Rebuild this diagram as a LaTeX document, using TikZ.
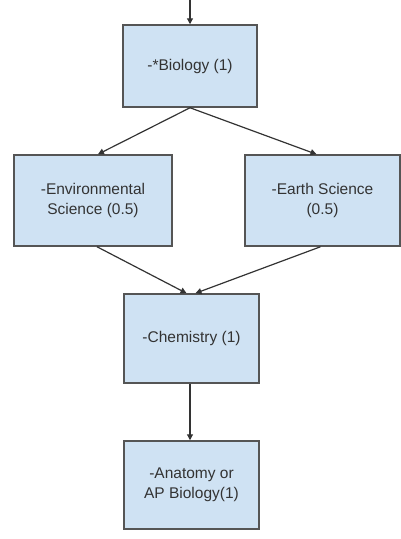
\documentclass[tikz,border=0pt]{standalone}
\usepackage{fontspec}
\setmainfont{Liberation Sans}
\usetikzlibrary{arrows.meta}
\definecolor{boxblue}{RGB}{207,226,243}
\definecolor{boxline}{RGB}{85,85,85}
\tikzset{
  course/.style={draw=boxline,line width=1.5pt,fill=boxblue,align=center,
    inner sep=0pt,font=\fontsize{15.5}{20}\selectfont,text=black!80},
  link/.style={draw=black!80,line width=1.2pt,-{Triangle[length=6pt,width=6pt]}}
}

\begin{document}
\begin{tikzpicture}[x=1pt,y=-1pt]
    \useasboundingbox (0,0) rectangle (401,539);
    \node[course,minimum width=134pt,minimum height=82pt] (bio) at (190,66) {-*Biology (1)};
    \node[course,minimum width=158pt,minimum height=91pt] (env) at (93,200.5) {-Environmental\\Science (0.5)};
    \node[course,minimum width=155pt,minimum height=91pt] (earth) at (322.5,200.5) {-Earth Science\\(0.5)};
    \node[course,minimum width=135pt,minimum height=89pt] (chem) at (191.5,338.5) {-Chemistry (1)};
    \node[course,minimum width=135pt,minimum height=88pt] (anat) at (191.5,485) {-Anatomy or\\AP Biology(1)};
    \coordinate (in) at (190,0);
    \draw[link] (in) -- (bio.north);
    \draw[link] (bio.south) -- ([xshift=5pt]env.north);
    \draw[link] (bio.south) -- ([xshift=-6pt]earth.north);
    \draw[link] ([xshift=4pt]env.south) -- ([xshift=-5pt]chem.north);
    \draw[link] ([xshift=-2pt]earth.south) -- ([xshift=4pt]chem.north);
    \draw[link] ([xshift=-1.5pt]chem.south) -- ([xshift=-1.5pt]anat.north);
\end{tikzpicture}
\end{document}
